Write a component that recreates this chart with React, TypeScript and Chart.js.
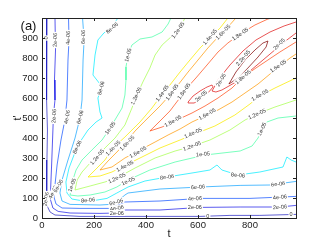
import React, { useEffect, useRef } from 'react';
import { Chart, registerables } from 'chart.js';
Chart.register(...registerables);

// axis ticks
const xTicks = [0, 200, 400, 600, 800];
const yTicks = [0, 100, 200, 300, 400, 500, 600, 700, 800, 900];
const xMax = 977;
const yMax = 1000;

// contour levels and their colours (jet)
const levelNames = ['0', '2e-06', '4e-06', '6e-06', '8e-06', '1e-05', '1.2e-05', '1.4e-05', '1.6e-05', '1.8e-05', '2e-05', '2.2e-05'];
const levelColors = ['rgba(20,20,190,0.75)', 'rgba(10,10,230,0.75)', 'rgba(0,70,255,0.75)', 'rgba(0,156,255,0.75)', 'rgba(0,235,255,0.8)', 'rgba(80,255,170,0.85)', 'rgba(170,255,85,0.85)', 'rgba(250,235,0,0.85)', 'rgba(255,152,0,0.8)', 'rgba(255,60,0,0.75)', 'rgba(220,0,0,0.75)', 'rgba(128,0,0,0.8)'];

// contour polylines [t, t']
const c0 = [[19,1000],[17,890],[19,740],[17,590],[21,440],[19,290],[17,140],[19,65],[31,30],[50,15],[146,8],[300,8],[454,8],[608,8],[723,13],[838,13],[977,18]];
const c2 = [[50,1000],[52,840],[48,690],[50,590],[44,515],[42,440],[37,265],[33,140],[33,90],[42,50],[62,33],[108,25],[223,23],[288,25],[319,40],[454,40],[608,53],[762,55],[915,55],[977,63]];
const c4 = [[102,1000],[104,890],[100,790],[96,590],[88,490],[73,390],[58,265],[50,165],[46,105],[54,70],[77,50],[146,48],[262,48],[319,80],[454,85],[608,98],[800,98],[977,108]];
const c6 = [[156,1000],[162,890],[158,790],[154,590],[146,500],[127,400],[100,290],[77,190],[69,125],[77,85],[108,68],[223,65],[262,68],[292,85],[319,115],[331,125],[454,145],[608,155],[762,163],[877,165],[977,183]];
const c8 = [[292,1000],[269,955],[238,925],[215,890],[204,815],[196,715],[223,670],[227,640],[215,600],[223,530],[231,500],[208,480],[177,440],[146,380],[123,315],[104,250],[92,180],[96,125],[115,95],[146,88],[204,88],[250,98],[288,125],[331,155],[396,185],[481,205],[577,225],[646,240],[673,265],[692,240],[754,215],[838,230],[927,255],[942,305],[958,290],[977,280]];
const c10 = [[496,1000],[485,970],[462,930],[423,905],[377,895],[346,865],[331,815],[323,755],[323,690],[319,615],[308,550],[285,500],[262,450],[231,390],[192,340],[154,290],[131,240],[115,175],[108,115],[138,110],[185,115],[242,130],[288,155],[331,190],[415,240],[512,280],[627,315],[762,335],[808,360],[831,400],[846,440],[865,480],[908,500],[977,510]];
const c12 = [[550,1000],[542,980],[523,940],[500,910],[462,865],[435,815],[415,750],[388,680],[365,615],[346,550],[319,465],[281,400],[242,350],[212,305],[185,275],[154,230],[135,190],[127,140],[185,160],[242,180],[288,200],[358,250],[435,300],[512,335],[569,355],[646,390],[723,440],[781,490],[827,520],[896,555],[977,590]];
const c14 = [[715,1000],[685,950],[646,900],[608,850],[569,790],[531,730],[492,665],[454,605],[423,550],[377,480],[319,405],[273,350],[242,290],[204,240],[177,205],[223,210],[269,230],[315,260],[377,300],[454,350],[531,390],[588,420],[665,460],[742,515],[800,570],[838,610],[896,650],[977,700]];
const c16 = [[746,1000],[715,955],[677,905],[638,850],[600,790],[562,730],[523,665],[485,605],[454,560],[423,520],[392,480],[358,435],[323,380],[292,335],[254,285],[223,240],[269,255],[319,300],[377,340],[435,380],[485,415],[531,445],[577,480],[627,510],[677,540],[731,580],[781,625],[831,670],[877,720],[915,760],[954,800],[977,820]];
const c18 = [[885,1000],[869,995],[819,965],[762,920],[715,875],[677,830],[638,770],[592,700],[554,645],[527,595],[492,535],[454,485],[415,435],[462,455],[519,490],[577,525],[627,560],[677,600],[731,650],[773,705],[823,750],[869,790],[915,830],[977,880]];
const c20a = [[562,580],[581,610],[608,635],[635,655],[654,665],[658,655],[638,625],[612,595],[585,575],[562,575],[562,580]];
const c20b = [[977,980],[931,960],[877,930],[823,890],[773,835],[723,765],[677,690],[665,660],[654,635],[669,630],[692,640],[746,680],[800,735],[850,790],[900,845],[942,890],[977,925]];
const c22 = [[719,670],[746,730],[781,790],[819,840],[850,875],[869,885],[862,855],[831,805],[792,750],[754,700],[719,670]];

const contourLevel = [0, 1, 2, 3, 4, 5, 6, 7, 8, 9, 10, 10, 11];
const contourPaths = [c0, c2, c4, c6, c8, c10, c12, c14, c16, c18, c20a, c20b, c22];

// contour labels: text, t, t', angle
const labels: [string, number, number, number][] = [
  ['0', 15, 900, -88], ['2e-06', 50, 890, -88], ['4e-06', 100, 900, -88], ['6e-06', 158, 905, -88],
  ['2e-06', 46, 510, -85], ['4e-06', 96, 505, -80], ['6e-06', 146, 505, -75],
  ['8e-06', 269, 950, -40], ['8e-06', 227, 650, -75], ['8e-06', 135, 355, -65],
  ['1e-05', 331, 815, -75], ['1e-05', 262, 450, -55], ['1e-05', 115, 165, -70],
  ['1.2e-05', 523, 940, -55], ['1.2e-05', 362, 610, -65], ['1.2e-05', 212, 305, -50],
  ['1.4e-05', 646, 905, -50], ['1.4e-05', 462, 625, -55], ['1.4e-05', 273, 350, -45],
  ['1.6e-05', 696, 930, -45], ['1.6e-05', 500, 630, -55], ['1.6e-05', 327, 375, -45],
  ['1.8e-05', 762, 920, -35], ['1.8e-05', 546, 635, -55],
  ['2e-05', 612, 610, -40], ['2e-05', 688, 690, -60], ['2.2e-05', 773, 800, -50], ['2e-05', 912, 870, -45],
  ['1.8e-05', 773, 705, -40], ['1.6e-05', 908, 760, -35], ['1.4e-05', 838, 615, -30], ['1.2e-05', 827, 520, -25],
  ['1e-05', 846, 445, -65], ['1e-05', 619, 320, -5], ['1.2e-05', 577, 360, -20], ['1.4e-05', 581, 425, -25],
  ['1.6e-05', 635, 520, -30], ['1.8e-05', 504, 485, -30], ['1.6e-05', 369, 330, -30], ['1.4e-05', 319, 260, -28],
  ['1.2e-05', 288, 200, -25], ['1e-05', 331, 185, -25],
  ['8e-06', 177, 90, -5], ['8e-06', 481, 205, -8], ['8e-06', 754, 215, 5],
  ['6e-06', 285, 80, -15], ['4e-06', 288, 50, -10], ['2e-06', 288, 25, 0],
  ['6e-06', 600, 155, -3], ['4e-06', 588, 98, -2], ['2e-06', 588, 53, 0], ['0', 638, 10, 0],
  ['6e-06', 908, 170, -8], ['4e-06', 915, 105, -5], ['2e-06', 915, 55, -3], ['0', 958, 18, 0],
  ['2e-06', 15, 95, -80], ['4e-06', 42, 130, -65], ['6e-06', 62, 160, -60],
];

const panelLabel = '(a)';
const xTitle = 't';
const yTitle = "t'";

const decor = {
  id: 'decor',
  afterDatasetsDraw(chart: any) {
    const { ctx, chartArea, scales } = chart;
    const { left, top, right, bottom } = chartArea;
    ctx.save();
    ctx.beginPath();
    ctx.rect(left, top, right - left, bottom - top);
    ctx.clip();
    ctx.font = '5.5px "Liberation Sans", Arial, sans-serif';
    ctx.textAlign = 'center';
    ctx.textBaseline = 'middle';
    for (const [txt, t, tp, rot] of labels) {
      const px = scales.x.getPixelForValue(t);
      const py = scales.y.getPixelForValue(tp);
      ctx.save();
      ctx.translate(px, py);
      ctx.rotate((rot * Math.PI) / 180);
      const w = ctx.measureText(txt).width;
      ctx.fillStyle = '#ffffff';
      ctx.fillRect(-w / 2 - 1, -3, w + 2, 6);
      ctx.fillStyle = '#333333';
      ctx.fillText(txt, 0, 0.3);
      ctx.restore();
    }
    ctx.restore();
  },
  afterDraw(chart: any) {
    const { ctx, chartArea, scales } = chart;
    const { left, top, right, bottom } = chartArea;
    ctx.save();
    ctx.strokeStyle = '#222222';
    ctx.lineWidth = 1;
    ctx.strokeRect(left + 0.5, top + 0.5, right - left, bottom - top);
    ctx.beginPath();
    for (const v of xTicks) {
      const px = Math.round(scales.x.getPixelForValue(v)) + 0.5;
      ctx.moveTo(px, bottom);
      ctx.lineTo(px, bottom - 3);
      ctx.moveTo(px, top);
      ctx.lineTo(px, top + 3);
    }
    for (const v of yTicks) {
      const py = Math.round(scales.y.getPixelForValue(v)) + 0.5;
      ctx.moveTo(left, py);
      ctx.lineTo(left + 3, py);
      ctx.moveTo(right, py);
      ctx.lineTo(right - 3, py);
    }
    ctx.stroke();
    ctx.fillStyle = '#111111';
    ctx.font = '13px "Liberation Sans", Arial, sans-serif';
    ctx.textAlign = 'center';
    ctx.textBaseline = 'middle';
    ctx.fillText(panelLabel, 28.5, 26.5);
    ctx.restore();
  },
};

export default function App() {
  const ref = useRef<HTMLCanvasElement | null>(null);
  useEffect(() => {
    document.body.style.margin = '0';
    const canvas = ref.current;
    if (!canvas) return;
    const datasets = contourPaths.map((path, i) => ({
      label: levelNames[contourLevel[i]],
      data: path.map(([x, y]) => ({ x, y })),
      showLine: true,
      borderColor: levelColors[contourLevel[i]],
      backgroundColor: levelColors[contourLevel[i]],
      borderWidth: 0.9,
      pointRadius: 0,
      tension: 0,
      fill: false,
    }));
    const tickFont = { family: '"Liberation Sans", Arial, sans-serif', size: 9.5 };
    const chart = new Chart(canvas, {
      type: 'scatter',
      data: { datasets },
      options: {
        animation: false,
        responsive: false,
        devicePixelRatio: 1,
        layout: { padding: { left: 0, right: 31, top: 18, bottom: 0 } },
        plugins: { legend: { display: false }, tooltip: { enabled: false } },
        scales: {
          x: {
            type: 'linear',
            min: 0,
            max: xMax,
            grid: { display: false, drawTicks: false },
            border: { display: false },
            afterBuildTicks: (axis: any) => { axis.ticks = xTicks.map((value) => ({ value })); },
            afterFit: (axis: any) => { axis.height = 28; },
            ticks: { font: tickFont, color: '#222222', padding: 2, maxRotation: 0 },
            title: { display: true, text: xTitle, color: '#222222', font: { family: '"Liberation Sans", Arial, sans-serif', size: 11 }, padding: { top: 0, bottom: 5 } },
          },
          y: {
            type: 'linear',
            min: 0,
            max: yMax,
            grid: { display: false, drawTicks: false },
            border: { display: false },
            afterBuildTicks: (axis: any) => { axis.ticks = yTicks.map((value) => ({ value })); },
            afterFit: (axis: any) => { axis.width = 42; },
            ticks: { font: tickFont, color: '#222222', padding: 4 },
            title: { display: true, text: yTitle, color: '#222222', font: { family: '"Liberation Sans", Arial, sans-serif', size: 11 }, padding: { top: 11, bottom: 0 } },
          },
        },
      },
      plugins: [decor],
    } as any);
    return () => chart.destroy();
  }, []);
  return (
    <div style={{ position: 'fixed', left: 0, top: 0, width: 327, height: 246, background: '#fff' }}>
      <canvas ref={ref} width={327} height={246} style={{ width: 327, height: 246 }} />
    </div>
  );
}
